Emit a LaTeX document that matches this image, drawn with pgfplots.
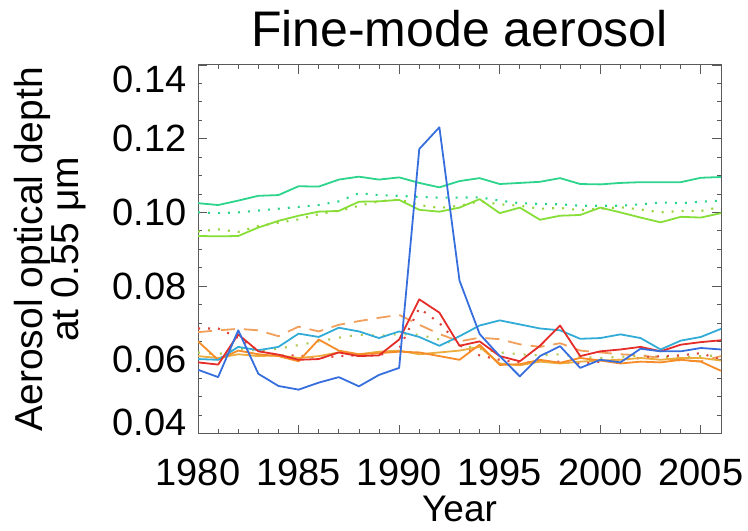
\documentclass[border=0pt]{standalone}
\usepackage{fontspec}
\setmainfont{Liberation Sans}
\usepackage{pgfplots}
\usepackage{pgfplotstable}
\pgfplotsset{compat=1.18}

\definecolor{ctg}{RGB}{45,212,140}
\definecolor{clg}{RGB}{135,222,55}
\definecolor{cld}{RGB}{150,212,60}
\definecolor{cbl}{RGB}{55,110,222}
\definecolor{ccy}{RGB}{50,172,215}
\definecolor{crd}{RGB}{228,45,40}
\definecolor{crdd}{RGB}{222,70,60}
\definecolor{cod}{RGB}{240,160,90}
\definecolor{cos}{RGB}{246,140,40}
\definecolor{cam}{RGB}{236,172,62}
\definecolor{col}{RGB}{175,200,80}

\pgfplotstableread{
year tg td lg ld bl cy rd rdd od os am ol
1980 0.1025 0.1000 0.0936 0.0948 0.0573 0.0602 0.0593 0.0685 0.0675 0.0650 0.0610 0.0620
1981 0.1020 0.0998 0.0935 0.0954 0.0553 0.0600 0.0587 0.0685 0.0680 0.0600 0.0605 0.0615
1982 0.1032 0.1000 0.0936 0.0947 0.0680 0.0635 0.0669 0.0660 0.0684 0.0625 0.0615 0.0630
1983 0.1045 0.1005 0.0959 0.0963 0.0562 0.0626 0.0623 0.0625 0.0680 0.0615 0.0610 0.0625
1984 0.1047 0.1010 0.0977 0.0972 0.0529 0.0635 0.0614 0.0612 0.0664 0.0610 0.0612 0.0630
1985 0.1071 0.1015 0.0991 0.0981 0.0519 0.0671 0.0600 0.0612 0.0690 0.0596 0.0605 0.0640
1986 0.1070 0.1020 0.1002 0.0995 0.0538 0.0662 0.0602 0.0605 0.0677 0.0655 0.0610 0.0650
1987 0.1089 0.1030 0.1004 0.1004 0.0553 0.0687 0.0620 0.0610 0.0695 0.0625 0.0620 0.0660
1988 0.1097 0.1052 0.1029 0.1018 0.0528 0.0677 0.0610 0.0612 0.0705 0.0615 0.0615 0.0668
1989 0.1089 0.1047 0.1030 0.1030 0.0559 0.0659 0.0612 0.0612 0.0714 0.0618 0.0622 0.0665
1990 0.1095 0.1045 0.1034 0.1035 0.0578 0.0677 0.0655 0.0630 0.0722 0.0622 0.0625 0.0670
1991 0.1080 0.1042 0.1007 0.1020 0.1172 0.0662 0.0764 0.0740 0.0695 0.0620 0.0615 0.0668
1992 0.1068 0.1040 0.1002 0.1012 0.1231 0.0638 0.0728 0.0700 0.0670 0.0610 0.0620 0.0655
1993 0.1085 0.1040 0.1013 0.1018 0.0815 0.0664 0.0638 0.0640 0.0650 0.0600 0.0625 0.0640
1994 0.1093 0.1041 0.1036 0.1030 0.0670 0.0693 0.0650 0.0612 0.0660 0.0641 0.0635 0.0630
1995 0.1077 0.1032 0.0998 0.1022 0.0610 0.0707 0.0610 0.0600 0.0656 0.0586 0.0590 0.0620
1996 0.1080 0.1025 0.1013 0.1018 0.0555 0.0696 0.0596 0.0592 0.0642 0.0588 0.0585 0.0615
1997 0.1083 0.1023 0.0980 0.1010 0.0610 0.0685 0.0638 0.0595 0.0635 0.0600 0.0595 0.0612
1998 0.1093 0.1022 0.0991 0.1012 0.0637 0.0680 0.0693 0.0595 0.0645 0.0592 0.0590 0.0615
1999 0.1077 0.1018 0.0993 0.1006 0.0578 0.0657 0.0610 0.0590 0.0625 0.0605 0.0595 0.0608
2000 0.1076 0.1018 0.1013 0.1010 0.0600 0.0659 0.0623 0.0595 0.0620 0.0598 0.0598 0.0605
2001 0.1080 0.1018 0.1000 0.1014 0.0593 0.0669 0.0628 0.0600 0.0615 0.0590 0.0600 0.0608
2002 0.1082 0.1022 0.0986 0.1008 0.0630 0.0659 0.0635 0.0605 0.0612 0.0595 0.0605 0.0612
2003 0.1082 0.1027 0.0973 0.1000 0.0623 0.0628 0.0623 0.0610 0.0605 0.0593 0.0600 0.0608
2004 0.1082 0.1025 0.0988 0.1004 0.0623 0.0652 0.0641 0.0612 0.0598 0.0600 0.0605 0.0606
2005 0.1094 0.1029 0.0986 0.1004 0.0632 0.0662 0.0648 0.0618 0.0596 0.0595 0.0605 0.0610
2006 0.1096 0.1032 0.0998 0.1015 0.0628 0.0684 0.0653 0.0600 0.0610 0.0570 0.0598 0.0612
}\aod

\begin{document}
\begin{tikzpicture}
\path[use as bounding box] (0bp,0bp) rectangle (748bp,531bp);
\begin{axis}[
  at={(198bp,97.5bp)}, anchor=south west,
  scale only axis, width=523bp, height=368.5bp,
  xmin=1980, xmax=2006, ymin=0.04, ymax=0.14,
  xtick={1980,1985,1990,1995,2000,2005},
  xticklabels={1980,1985,1990,1995,2000,2005},
  ytick={0.04,0.06,0.08,0.10,0.12,0.14},
  yticklabels={\raisebox{11.5bp}[\height][\depth]{0.04},0.06,0.08,0.10,0.12,\raisebox{-14bp}[\height][\depth]{0.14}},
  minor x tick num=4, minor y tick num=3,
  tick align=inside,
  major tick length=9bp, minor tick length=4.5bp,
  axis line style={black!65, line width=1bp},
  tick style={black!65, line width=0.8bp},
  ticklabel style={font=\fontsize{38bp}{40bp}\selectfont},
  xticklabel style={anchor=north, inner sep=0pt, yshift=-25.5bp},
  yticklabel style={anchor=east, inner sep=0pt, xshift=-11bp},
  title={Fine-mode aerosol},
  title style={font=\fontsize{50bp}{55bp}\selectfont, at={(axis description cs:0.5,1)}, anchor=base, yshift=13bp},
  xlabel={Year},
  xlabel style={font=\fontsize{37bp}{40bp}\selectfont, inner sep=0pt, at={(axis description cs:0.5,0)}, anchor=base, yshift=-88bp},
  ylabel={Aerosol optical depth\\at 0.55 μm},
  ylabel style={font=\fontsize{39bp}{33bp}\selectfont, align=center, inner sep=0pt, at={(axis description cs:-0.283,0.5)}, anchor=center},
  every axis plot/.append style={no markers, line width=1.8bp, line join=round},
  clip=true,
]
\addplot[ctg] table[x=year,y=tg]{\aod};
\addplot[ctg, line width=2.1bp, dash pattern=on 2bp off 8bp] table[x=year,y=td]{\aod};
\addplot[clg] table[x=year,y=lg]{\aod};
\addplot[cld, line width=2.1bp, dash pattern=on 2bp off 8bp] table[x=year,y=ld]{\aod};
\addplot[col, line width=2.1bp, dash pattern=on 2bp off 9bp] table[x=year,y=ol]{\aod};
\addplot[cod, dash pattern=on 14bp off 9bp] table[x=year,y=od]{\aod};
\addplot[crdd, line width=2.1bp, dash pattern=on 2bp off 8bp] table[x=year,y=rdd]{\aod};
\addplot[cam] table[x=year,y=am]{\aod};
\addplot[cos] table[x=year,y=os]{\aod};
\addplot[ccy] table[x=year,y=cy]{\aod};
\addplot[crd] table[x=year,y=rd]{\aod};
\addplot[cbl] table[x=year,y=bl]{\aod};
\end{axis}
\end{tikzpicture}
\end{document}
